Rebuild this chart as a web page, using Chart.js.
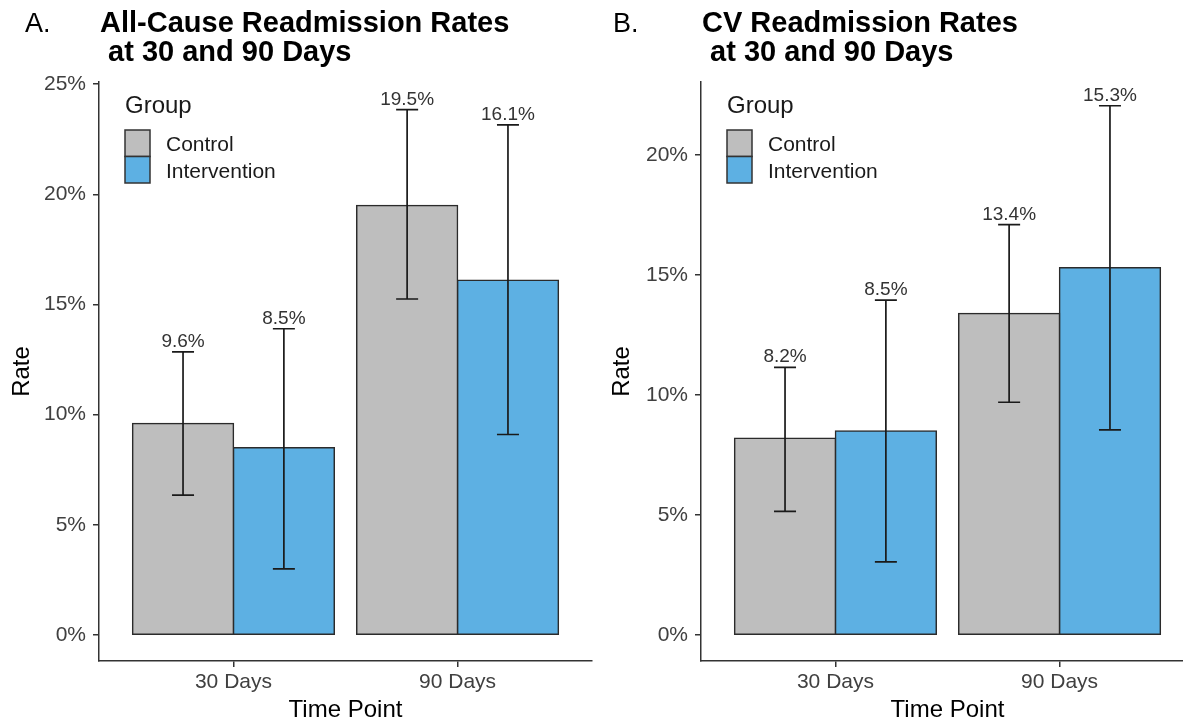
<!DOCTYPE html>
<html>
<head>
<meta charset="utf-8">
<script src="https://cdn.jsdelivr.net/npm/chart.js@4.4.1/dist/chart.umd.min.js"></script>
<style>
  html, body { margin: 0; padding: 0; background: #ffffff; width: 1183px; height: 725px; overflow: hidden; }
  .panel { position: absolute; top: 0; }
  #wrapA { left: 0; width: 600px; height: 725px; }
  #wrapB { left: 600px; width: 600px; height: 725px; }
</style>
</head>
<body>
<div id="wrapA" class="panel"><canvas id="chartA" width="600" height="725"></canvas></div>
<div id="wrapB" class="panel"><canvas id="chartB" width="600" height="725"></canvas></div>
<script>
// ---------- data ----------
const categories = ['30 Days', '90 Days'];
const groups = ['Control', 'Intervention'];
const groupColors = ['#BEBEBE', '#5DB0E3'];

const allCauseControl = [9.6, 19.5];
const allCauseIntervention = [8.5, 16.1];
const allCauseControlLow = [6.35, 15.25];
const allCauseControlHigh = [12.85, 23.85];
const allCauseInterventionLow = [3.0, 9.1];
const allCauseInterventionHigh = [13.9, 23.15];
const allCauseTicks = [0, 5, 10, 15, 20, 25];

const cvControl = [8.2, 13.4];
const cvIntervention = [8.5, 15.3];
const cvControlLow = [5.15, 9.7];
const cvControlHigh = [11.15, 17.1];
const cvInterventionLow = [3.05, 8.55];
const cvInterventionHigh = [13.95, 22.05];
const cvTicks = [0, 5, 10, 15, 20];

const FONT = "'Liberation Sans', Arial, Helvetica, sans-serif";

// ---------- plugins ----------
const errorBarPlugin = {
  id: 'errorBars',
  afterDatasetsDraw(chart) {
    const ctx = chart.ctx;
    const yScale = chart.scales.y;
    ctx.save();
    chart.data.datasets.forEach((ds, di) => {
      const meta = chart.getDatasetMeta(di);
      meta.data.forEach((el, j) => {
        const x = el.x;
        const yl = yScale.getPixelForValue(ds.errLow[j]);
        const yh = yScale.getPixelForValue(ds.errHigh[j]);
        const half = 11;
        ctx.strokeStyle = '#1a1a1a';
        ctx.lineWidth = 1.7;
        ctx.beginPath();
        ctx.moveTo(x, yl); ctx.lineTo(x, yh);
        ctx.moveTo(x - half, yl); ctx.lineTo(x + half, yl);
        ctx.moveTo(x - half, yh); ctx.lineTo(x + half, yh);
        ctx.stroke();
        ctx.fillStyle = '#333333';
        ctx.font = '19px ' + FONT;
        ctx.textAlign = 'center';
        ctx.textBaseline = 'alphabetic';
        const v = ds.data[j].y;
        ctx.fillText(v.toFixed(1) + '%', x, yh - 5);
      });
    });
    ctx.restore();
  }
};

const panelDecorPlugin = {
  id: 'panelDecor',
  afterDraw(chart, args, opts) {
    const ctx = chart.ctx;
    const area = chart.chartArea;
    ctx.save();
    // tag + title
    ctx.fillStyle = '#000000';
    ctx.textAlign = 'left';
    ctx.textBaseline = 'alphabetic';
    ctx.font = '27px ' + FONT;
    ctx.fillText(opts.tag, opts.tagX, 32);
    ctx.font = 'bold 29px ' + FONT;
    ctx.fillText(opts.title[0], area.left + 1, 32);
    ctx.fillText(opts.title[1], area.left + 1, 61);
    // legend
    const x0 = area.left + 26;
    ctx.fillStyle = '#1a1a1a';
    ctx.font = '24px ' + FONT;
    ctx.fillText('Group', x0, 113);
    chart.data.datasets.forEach((ds, i) => {
      const y0 = 130 + i * 26.5;
      ctx.fillStyle = ds.backgroundColor;
      ctx.fillRect(x0, y0, 25, 26.5);
      ctx.strokeStyle = '#333333';
      ctx.lineWidth = 1.5;
      ctx.strokeRect(x0, y0, 25, 26.5);
      ctx.fillStyle = '#1a1a1a';
      ctx.font = '21px ' + FONT;
      ctx.fillText(ds.label, x0 + 41, y0 + 21);
    });
    ctx.restore();
  }
};

// ---------- chart builder ----------
function buildPanel(canvasId, cfg) {
  const mk = (vals) => categories.map((c, i) => ({ x: i + 1, y: vals[i] }));
  const gridOpts = { drawOnChartArea: false, drawTicks: true, tickLength: 6, color: '#333333', lineWidth: 1.5, offset: false };
  const borderOpts = { display: true, color: '#333333', width: 1.5 };
  const barStyle = { borderColor: '#2b2b2b', borderWidth: 1.5, borderSkipped: false, inflateAmount: 0.75 };
  return new Chart(document.getElementById(canvasId), {
    type: 'bar',
    data: {
      datasets: [
        Object.assign({ label: groups[0], data: mk(cfg.control), errLow: cfg.controlLow, errHigh: cfg.controlHigh,
          backgroundColor: groupColors[0] }, barStyle),
        Object.assign({ label: groups[1], data: mk(cfg.intervention), errLow: cfg.interventionLow, errHigh: cfg.interventionHigh,
          backgroundColor: groupColors[1] }, barStyle)
      ]
    },
    options: {
      responsive: false,
      animation: false,
      devicePixelRatio: 1,
      categoryPercentage: 0.9,
      barPercentage: 1.0,
      layout: { padding: { top: 82, right: cfg.rightPad, bottom: 0, left: 0 } },
      plugins: {
        legend: { display: false },
        tooltip: { enabled: false },
        panelDecor: { tag: cfg.tag, tagX: cfg.tagX, title: cfg.title }
      },
      scales: {
        x: {
          type: 'linear',
          offset: false,
          min: 0.4,
          max: 2.6,
          grid: gridOpts,
          border: borderOpts,
          afterBuildTicks: (s) => { s.ticks = categories.map((c, i) => ({ value: i + 1 })); },
          afterFit: (s) => { s.height = 64; },
          ticks: {
            autoSkip: false, maxRotation: 0, padding: 3, color: '#404040',
            font: { family: FONT, size: 21 },
            callback: (v) => categories[Math.round(v) - 1]
          },
          title: { display: true, text: 'Time Point', color: '#000000',
                   font: { family: FONT, size: 24 }, padding: { top: 0, bottom: 0 } }
        },
        y: {
          type: 'linear',
          min: cfg.yMin,
          max: cfg.yMax,
          grid: gridOpts,
          border: borderOpts,
          afterBuildTicks: (s) => { s.ticks = cfg.ticks.map(v => ({ value: v })); },
          afterFit: (s) => { s.width = cfg.yWidth; },
          ticks: {
            padding: 7, color: '#404040',
            font: { family: FONT, size: 21 },
            callback: (v) => v + '%'
          },
          title: { display: true, text: 'Rate', color: '#000000',
                   font: { family: FONT, size: 24 }, padding: { top: 8, bottom: 0 } }
        }
      }
    },
    plugins: [errorBarPlugin, panelDecorPlugin]
  });
}

buildPanel('chartA', {
  control: allCauseControl, intervention: allCauseIntervention,
  controlLow: allCauseControlLow, controlHigh: allCauseControlHigh,
  interventionLow: allCauseInterventionLow, interventionHigh: allCauseInterventionHigh,
  ticks: allCauseTicks, yMin: -1.18, yMax: 25.1, yWidth: 99, rightPad: 8,
  tag: 'A.', tagX: 25, title: ['All-Cause Readmission Rates', ' at 30 and 90 Days']
});

buildPanel('chartB', {
  control: cvControl, intervention: cvIntervention,
  controlLow: cvControlLow, controlHigh: cvControlHigh,
  interventionLow: cvInterventionLow, interventionHigh: cvInterventionHigh,
  ticks: cvTicks, yMin: -1.08, yMax: 23.04, yWidth: 101, rightPad: 6,
  tag: 'B.', tagX: 13, title: ['CV Readmission Rates', ' at 30 and 90 Days']
});
</script>
</body>
</html>
